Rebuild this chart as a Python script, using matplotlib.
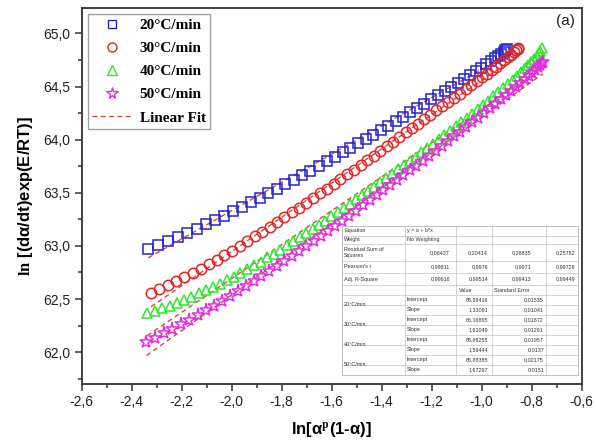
import matplotlib
matplotlib.use('Agg')
import matplotlib.pyplot as plt
from matplotlib.lines import Line2D
from matplotlib.ticker import MultipleLocator, FuncFormatter
import numpy as np

# heating rates
rates = ['20°C/min', '30°C/min', '40°C/min', '50°C/min']

# 20°C/min
x20 = [-2.334, -2.294, -2.255, -2.216, -2.178, -2.140, -2.103, -2.066, -2.030, -1.994,
       -1.958, -1.923, -1.888, -1.853, -1.819, -1.785, -1.751, -1.718, -1.685, -1.652,
       -1.620, -1.588, -1.556, -1.525, -1.494, -1.463, -1.433, -1.403, -1.373, -1.344,
       -1.315, -1.286, -1.258, -1.230, -1.202, -1.175, -1.148, -1.122, -1.096, -1.071,
       -1.047, -1.024, -1.002, -0.982, -0.964, -0.948, -0.934, -0.922, -0.912, -0.905,
       -0.900]
y20 = [62.967, 63.006, 63.043, 63.083, 63.122, 63.163, 63.203, 63.244, 63.286, 63.328,
       63.371, 63.413, 63.455, 63.498, 63.540, 63.582, 63.625, 63.667, 63.710, 63.753,
       63.795, 63.837, 63.880, 63.922, 63.965, 64.007, 64.049, 64.091, 64.133, 64.174,
       64.216, 64.257, 64.298, 64.338, 64.379, 64.418, 64.458, 64.497, 64.535, 64.573,
       64.609, 64.645, 64.679, 64.711, 64.740, 64.766, 64.790, 64.811, 64.829, 64.843,
       64.856]

# 30°C/min
x30 = [-2.323, -2.289, -2.255, -2.222, -2.189, -2.156, -2.124, -2.092, -2.060, -2.029,
       -1.998, -1.967, -1.937, -1.907, -1.877, -1.847, -1.818, -1.789, -1.760, -1.731,
       -1.703, -1.675, -1.647, -1.619, -1.592, -1.565, -1.538, -1.511, -1.484, -1.458,
       -1.432, -1.406, -1.380, -1.354, -1.329, -1.304, -1.279, -1.254, -1.229, -1.205,
       -1.181, -1.157, -1.133, -1.110, -1.087, -1.064, -1.042, -1.020, -0.999, -0.979,
       -0.960, -0.942, -0.925, -0.909, -0.895, -0.882, -0.871, -0.862, -0.856, -0.853]
y30 = [62.557, 62.592, 62.629, 62.666, 62.705, 62.746, 62.787, 62.829, 62.871, 62.913,
       62.956, 63.001, 63.045, 63.090, 63.135, 63.180, 63.225, 63.270, 63.315, 63.361,
       63.405, 63.450, 63.495, 63.540, 63.585, 63.629, 63.674, 63.718, 63.764, 63.808,
       63.851, 63.895, 63.939, 63.983, 64.025, 64.068, 64.110, 64.152, 64.194, 64.235,
       64.276, 64.316, 64.357, 64.396, 64.435, 64.474, 64.512, 64.550, 64.587, 64.622,
       64.656, 64.688, 64.719, 64.749, 64.775, 64.801, 64.824, 64.844, 64.857, 64.865]

# 40°C/min
x40 = [-2.338, -2.308, -2.278, -2.248, -2.219, -2.190, -2.161, -2.132, -2.104, -2.076,
       -2.048, -2.020, -1.992, -1.965, -1.938, -1.911, -1.884, -1.857, -1.831, -1.805,
       -1.779, -1.753, -1.727, -1.701, -1.676, -1.651, -1.626, -1.601, -1.576, -1.551,
       -1.526, -1.502, -1.478, -1.454, -1.430, -1.406, -1.382, -1.358, -1.334, -1.310,
       -1.287, -1.264, -1.241, -1.218, -1.195, -1.172, -1.149, -1.126, -1.104, -1.082,
       -1.060, -1.038, -1.016, -0.995, -0.974, -0.953, -0.933, -0.913, -0.894, -0.876,
       -0.859, -0.843, -0.828, -0.814, -0.801, -0.790, -0.780, -0.772, -0.765, -0.760]
y40 = [62.365, 62.388, 62.412, 62.439, 62.466, 62.494, 62.523, 62.553, 62.583, 62.614,
       62.645, 62.678, 62.711, 62.745, 62.780, 62.816, 62.853, 62.891, 62.928, 62.966,
       63.004, 63.043, 63.082, 63.121, 63.160, 63.199, 63.238, 63.278, 63.318, 63.358,
       63.398, 63.438, 63.477, 63.517, 63.558, 63.598, 63.638, 63.679, 63.721, 63.762,
       63.802, 63.841, 63.882, 63.923, 63.963, 64.004, 64.045, 64.085, 64.125, 64.165,
       64.205, 64.246, 64.287, 64.326, 64.367, 64.407, 64.447, 64.487, 64.526, 64.564,
       64.601, 64.636, 64.671, 64.704, 64.735, 64.764, 64.791, 64.815, 64.838, 64.861]

# 50°C/min
x50 = [-2.341, -2.306, -2.271, -2.237, -2.203, -2.169, -2.136, -2.103, -2.070, -2.038,
       -2.006, -1.974, -1.943, -1.912, -1.881, -1.850, -1.820, -1.790, -1.760, -1.730,
       -1.701, -1.672, -1.643, -1.614, -1.586, -1.558, -1.530, -1.502, -1.474, -1.447,
       -1.420, -1.393, -1.366, -1.339, -1.313, -1.287, -1.261, -1.235, -1.209, -1.184,
       -1.159, -1.134, -1.109, -1.085, -1.061, -1.037, -1.013, -0.990, -0.967, -0.945,
       -0.923, -0.902, -0.882, -0.863, -0.845, -0.828, -0.812, -0.798, -0.785, -0.774,
       -0.765, -0.759, -0.755]
y50 = [62.092, 62.134, 62.177, 62.218, 62.261, 62.305, 62.348, 62.393, 62.438, 62.482,
       62.528, 62.574, 62.620, 62.667, 62.714, 62.762, 62.809, 62.856, 62.904, 62.953,
       63.000, 63.048, 63.095, 63.144, 63.191, 63.237, 63.285, 63.333, 63.381, 63.428,
       63.475, 63.522, 63.570, 63.618, 63.664, 63.711, 63.757, 63.804, 63.850, 63.895,
       63.940, 63.985, 64.031, 64.075, 64.119, 64.163, 64.208, 64.252, 64.295, 64.337,
       64.380, 64.421, 64.460, 64.498, 64.534, 64.569, 64.601, 64.631, 64.659, 64.683,
       64.704, 64.719, 64.731]

# linear fit results (y = a + b*x)
intercepts = [65.99416, 66.16865, 65.88255, 65.88385]
intercept_err = ['0,01535', '0,01872', '0,01957', '0,02175']
slopes = [1.33091, 1.61049, 1.59444, 1.67297]
slope_err = ['0,01041', '0,01291', '0.0137', '0.0151']
rss = ['0,08437', '0,20414', '0,28835', '0,25782']
pearson_r = ['0,99811', '0,9976', '0,9971', '0,99728']
adj_r2 = ['0,99616', '0,99514', '0,99413', '0,99449']

COLORS = ['#2323cf', '#e52424', '#2ee62e', '#e22ee2']
MARKERS = ['s', 'o', '^', '*']
MSIZES = [6.5, 7.5, 7.5, 9.5]
FIT_COLOR = '#d24a3c'


def comma(v, _pos=None):
    return f'{v:.1f}'.replace('.', ',')


def draw_table(fig):
    """Origin-style fit parameter table (pixel units inside inset)"""
    W, H = 236.3, 149.0
    tab = fig.add_axes([341.7 / 596, 1 - 375 / 445, W / 596, H / 445])
    tab.set_xlim(0, W)
    tab.set_ylim(H, 0)
    tab.set_xticks([])
    tab.set_yticks([])
    for s in tab.spines.values():
        s.set_color('#b8b8b8')
        s.set_linewidth(0.6)
    tab.set_facecolor('white')

    cols = [0, 63.3, 114.3, 150.0, 204.3, W]
    rows = [0, 10, 18, 35, 47, 59, 69, 79, 89, 99, 109, 119, 129, 139, H]
    gc = '#c4c4c4'
    fs = 3.9
    tc = '#333333'

    # vertical lines
    for c in cols[1:-1]:
        tab.plot([c, c], [0, H], color=gc, lw=0.5)
    # horizontal lines
    for i, r in enumerate(rows[1:-1], start=1):
        if i >= 7 and i % 2 == 0:
            tab.plot([cols[1], W], [r, r], color=gc, lw=0.5)
        else:
            tab.plot([0, W], [r, r], color=gc, lw=0.5)

    def mid(i):
        return (rows[i] + rows[i + 1]) / 2

    labels = ['Equation', 'Weight', 'Residual Sum of\nSquares', "Pearson's r", 'Adj. R-Square']
    for i, lab in enumerate(labels):
        tab.text(2.5, mid(i), lab, fontsize=fs, color=tc, va='center', ha='left',
                 linespacing=1.0)
    tab.text(cols[1] + 2, mid(0), 'y = a + b*x', fontsize=fs, color=tc, va='center')
    tab.text(cols[1] + 2, mid(1), 'No Weighting', fontsize=fs, color=tc, va='center')

    val_x = [108.3, 146.3, 189.3, 234.0]
    for i, vals in zip([2, 3, 4], [rss, pearson_r, adj_r2]):
        for xv, v in zip(val_x, vals):
            tab.text(xv, mid(i), v, fontsize=fs, color=tc, va='center', ha='right')

    tab.text(cols[2] + 3, mid(5), 'Value', fontsize=fs, color=tc, va='center')
    tab.text(cols[3] + 2, mid(5), 'Standard Error', fontsize=fs, color=tc, va='center')

    for k in range(4):
        r0 = 6 + 2 * k
        tab.text(2.5, rows[r0 + 1], rates[k], fontsize=fs, color=tc, va='center')
        tab.text(cols[1] + 2, mid(r0), 'Intercept', fontsize=fs, color=tc, va='center')
        tab.text(cols[1] + 2, mid(r0 + 1), 'Slope', fontsize=fs, color=tc, va='center')
        tab.text(146.3, mid(r0), f'{intercepts[k]:.5f}'.replace('.', ','),
                 fontsize=fs, color=tc, va='center', ha='right')
        tab.text(146.3, mid(r0 + 1), f'{slopes[k]:.5f}'.replace('.', ','),
                 fontsize=fs, color=tc, va='center', ha='right')
        tab.text(202.3, mid(r0), intercept_err[k], fontsize=fs, color=tc,
                 va='center', ha='right')
        tab.text(202.3, mid(r0 + 1), slope_err[k], fontsize=fs, color=tc,
                 va='center', ha='right')


def main():
    plt.rcParams['font.family'] = ['Liberation Sans', 'DejaVu Sans']
    plt.rcParams['mathtext.fontset'] = 'stix'

    fig = plt.figure(figsize=(5.96, 4.45), dpi=100)
    ax = fig.add_axes([81.7 / 596, 1 - 384 / 445, 500 / 596, 376 / 445])

    xs = [x20, x30, x40, x50]
    ys = [y20, y30, y40, y50]

    # fit lines first so that markers sit on top
    for k in range(4):
        xf = np.array([min(xs[k]), max(xs[k])])
        ax.plot(xf, intercepts[k] + slopes[k] * xf, ls=(0, (3.5, 2.5)),
                color=FIT_COLOR, lw=1.0, zorder=2)

    for k in range(4):
        ax.plot(xs[k], ys[k], ls='none', marker=MARKERS[k], ms=MSIZES[k],
                mfc='none', mec=COLORS[k], mew=1.1, zorder=3)

    ax.set_xlim(-2.6, -0.6)
    ax.set_ylim(61.7, 65.24)
    ax.xaxis.set_major_locator(MultipleLocator(0.2))
    ax.xaxis.set_minor_locator(MultipleLocator(0.1))
    ax.yaxis.set_major_locator(MultipleLocator(0.5))
    ax.yaxis.set_minor_locator(MultipleLocator(0.25))
    ax.xaxis.set_major_formatter(FuncFormatter(comma))
    ax.yaxis.set_major_formatter(FuncFormatter(comma))
    ax.tick_params(which='both', direction='out', top=False, right=False,
                   color='#333333', width=1.1)
    ax.tick_params(which='major', length=5, labelsize=10, labelcolor='#222222', pad=3)
    ax.tick_params(which='minor', length=3)
    for s in ax.spines.values():
        s.set_linewidth(1.3)
        s.set_color('#333333')

    ax.set_xlabel(r'ln[α$^{\mathbf{p}}$(1-α)]', fontsize=12, fontweight='bold', labelpad=8)
    ax.set_ylabel(r'$\mathbf{ln}$ [(dα/dt)exp(E/RT)]', fontsize=12, fontweight='bold',
                  labelpad=6)

    ax.text(0.967, 0.965, '(a)', transform=ax.transAxes, fontsize=11,
            ha='center', va='center', color='#222222')

    # legend
    handles = []
    for k in range(4):
        handles.append(Line2D([], [], ls='none', marker=MARKERS[k], ms=MSIZES[k] - 1,
                              mfc='none', mec=COLORS[k], mew=1.0))
    handles.append(Line2D([], [], ls=(0, (3.5, 2.5)), color=FIT_COLOR, lw=1.0))
    leg = ax.legend(handles, rates + ['Linear Fit'], loc='upper left',
                    bbox_to_anchor=(0.012, 0.985), borderaxespad=0,
                    prop={'family': 'Liberation Serif', 'weight': 'bold', 'size': 11},
                    frameon=True, fancybox=False, edgecolor='#888888',
                    handlelength=2.6, handletextpad=0.5, labelspacing=0.62,
                    borderpad=0.3)
    leg.get_frame().set_linewidth(1.0)

    draw_table(fig)

    fig.savefig('out.png', dpi=100)


if __name__ == "__main__":
    main()
